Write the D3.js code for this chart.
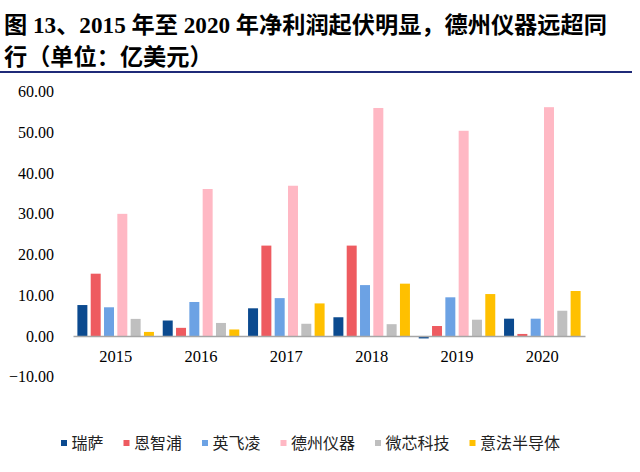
<!DOCTYPE html>
<html><head><meta charset="utf-8">
<script src="https://cdn.jsdelivr.net/npm/d3@7/dist/d3.min.js"></script>
<style>body{margin:0;background:#fff}svg{display:block}</style>
</head><body>
<script>
const years = ["2015","2016","2017","2018","2019","2020"];
const seriesNames = ["瑞萨","恩智浦","英飞凌","德州仪器","微芯科技","意法半导体"];
const renesas   = [7.6, 3.8, 6.8, 4.6, -0.6, 4.25];
const nxp       = [15.3, 2.0, 22.2, 22.2, 2.45, 0.5];
const infineon  = [7.05, 8.35, 9.3, 12.5, 9.5, 4.25];
const ti        = [30.0, 36.1, 36.9, 56.0, 50.4, 56.2];
const microchip = [4.2, 3.2, 3.0, 2.9, 4.0, 6.2];
const st        = [1.0, 1.6, 8.0, 12.85, 10.3, 11.05];
const yTicks = [-10, 0, 10, 20, 30, 40, 50, 60];
const colors = ["#0B4A8F","#EE5B60","#6CA2E4","#FFB8C4","#BFBFBF","#FFC000"];

const values = [renesas, nxp, infineon, ti, microchip, st];
const W = 640, H = 472;
const svg = d3.select("body").append("svg").attr("width", W).attr("height", H);

// Title
const tFont = '"Liberation Serif","Noto Sans CJK SC",serif';
svg.append("text").attr("x", 4).attr("y", 33)
  .attr("font-family", tFont).attr("font-weight", "bold").attr("font-size", 23.2).attr("fill", "#000")
  .text("图 13、2015 年至 2020 年净利润起伏明显，德州仪器远超同");
svg.append("text").attr("x", 4).attr("y", 65)
  .attr("font-family", tFont).attr("font-weight", "bold").attr("font-size", 23.2).attr("fill", "#000")
  .text("行（单位：亿美元）");
svg.append("line").attr("x1", 0).attr("x2", 632).attr("y1", 72).attr("y2", 72)
  .attr("stroke", "#1F2A78").attr("stroke-width", 2);

const y = d3.scaleLinear().domain([-10, 60]).range([376.7, 91.7]);
const x0 = d3.scaleBand().domain(years).range([73, 585]).padding(0);
const x1 = d3.scaleBand().domain(seriesNames).range([0, x0.bandwidth()]).paddingInner(0.25).paddingOuter(0.33);

// y axis labels
const yAxis = d3.axisLeft(y).tickValues(yTicks).tickFormat(d3.format(".2f")).tickSize(0).tickPadding(0);
const ya = svg.append("g").attr("transform", "translate(54,0)").call(yAxis);
ya.select(".domain").remove();
ya.selectAll("text").attr("font-family", '"Liberation Serif",serif').attr("font-size", 16).attr("fill", "#000");

// bars
const g = svg.append("g");
years.forEach((yr, i) => {
  const gg = g.append("g").attr("transform", `translate(${x0(yr)},0)`);
  seriesNames.forEach((s, j) => {
    const v = values[j][i];
    gg.append("rect").attr("x", x1(s)).attr("width", x1.bandwidth())
      .attr("y", y(Math.max(0, v))).attr("height", Math.abs(y(v) - y(0)))
      .attr("fill", colors[j]);
  });
});

// x axis baseline + labels
const xAxis = d3.axisBottom(x0).tickSize(0).tickPadding(14);
const xa = svg.append("g").attr("transform", `translate(0,${y(0)})`).call(xAxis);
xa.select(".domain").attr("stroke", "#A6A6A6").attr("stroke-width", 1.3);
xa.selectAll("text").attr("font-family", '"Liberation Serif",serif').attr("font-size", 16.5).attr("fill", "#000");

// legend
const lg = svg.append("g");
let lx = 61;
seriesNames.forEach((s, j) => {
  lg.append("rect").attr("x", lx).attr("y", 440).attr("width", 6).attr("height", 6).attr("fill", colors[j]);
  lg.append("text").attr("x", lx + 10.5).attr("y", 449)
    .attr("font-family", '"Noto Sans CJK SC",sans-serif').attr("font-size", 16).attr("fill", "#222")
    .text(s);
  lx += 11 + 16 * s.length + 19.5;
});
</script>
</body></html>
